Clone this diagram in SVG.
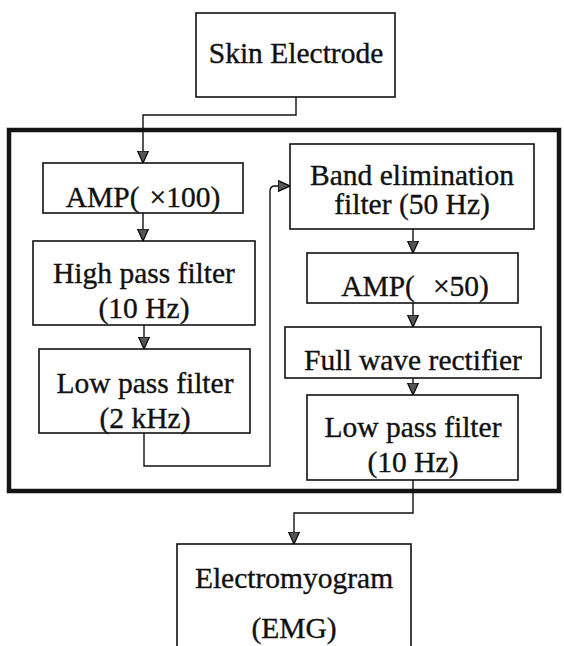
<svg xmlns="http://www.w3.org/2000/svg" width="564" height="646" viewBox="0 0 564 646">
  <style>
    .box { fill: #fff; stroke: #111; stroke-width: 1.6; }
    .frame { fill: none; stroke: #141414; stroke-width: 4.5; }
    .lbl { font-size: 29.5px; fill: #111; stroke: #111; stroke-width: 0.35; text-anchor: middle; }
    .wire { fill: none; stroke: #111; stroke-width: 1.4; }
  </style>
  <defs>
    <marker id="arr" viewBox="0 0 12 12" refX="12" refY="6" markerWidth="12" markerHeight="12" orient="auto" markerUnits="userSpaceOnUse">
      <path d="M0,0.5 L12,6 L0,11.5 Z" fill="#555" stroke="#000" stroke-width="1.2"/>
    </marker>
  </defs>

  <rect width="564" height="646" fill="#fff"/>

  <!-- processing unit enclosure -->
  <rect class="frame" x="9" y="130" width="550" height="361"/>

  <g font-family="'Liberation Serif', 'DejaVu Serif', serif">
    <g id="skin-electrode">
      <rect class="box" x="196" y="13" width="199" height="84"/>
      <text class="lbl" x="296" y="63">Skin Electrode</text>
    </g>

    <g id="amp100">
      <rect class="box" x="43" y="163" width="200" height="50"/>
      <text class="lbl" x="143" y="207">AMP(<tspan dx="10">×100)</tspan></text>
    </g>

    <g id="hpf">
      <rect class="box" x="33" y="241" width="222" height="84"/>
      <text class="lbl" x="144" y="283">High pass filter</text>
      <text class="lbl" x="144" y="318">(10 Hz)</text>
    </g>

    <g id="lpf2k">
      <rect class="box" x="39" y="349" width="211" height="84"/>
      <text class="lbl" x="145" y="393">Low pass filter</text>
      <text class="lbl" x="145" y="428">(2 kHz)</text>
    </g>

    <g id="bef">
      <rect class="box" x="290" y="144" width="244" height="85"/>
      <text class="lbl" x="412" y="185">Band elimination</text>
      <text class="lbl" x="412" y="214">filter (50 Hz)</text>
    </g>

    <g id="amp50">
      <rect class="box" x="307" y="253" width="211" height="50"/>
      <text class="lbl" x="415" y="296">AMP(<tspan dx="18">×50)</tspan></text>
    </g>

    <g id="rectifier">
      <rect class="box" x="285" y="327" width="256" height="51"/>
      <text class="lbl" x="413" y="370">Full wave rectifier</text>
    </g>

    <g id="lpf10">
      <rect class="box" x="307" y="395" width="211" height="85"/>
      <text class="lbl" x="413" y="437">Low pass filter</text>
      <text class="lbl" x="413" y="472">(10 Hz)</text>
    </g>

    <g id="emg">
      <rect class="box" x="177" y="544" width="234" height="110"/>
      <text class="lbl" x="294" y="588">Electromyogram</text>
      <text class="lbl" x="294" y="638">(EMG)</text>
    </g>
  </g>

  <g id="connectors">
    <path class="wire" d="M296,97 V115 H143 V163" marker-end="url(#arr)"/>
    <path class="wire" d="M143,213 V241" marker-end="url(#arr)"/>
    <path class="wire" d="M144,325 V349" marker-end="url(#arr)"/>
    <path class="wire" d="M144,433 V466 H270 V191 Q270,186 275,186 H290" marker-end="url(#arr)"/>
    <path class="wire" d="M413,229 V253" marker-end="url(#arr)"/>
    <path class="wire" d="M413,303 V327" marker-end="url(#arr)"/>
    <path class="wire" d="M413,378 V395" marker-end="url(#arr)"/>
    <path class="wire" d="M413,480 V513 H294 V544" marker-end="url(#arr)"/>
  </g>
</svg>
